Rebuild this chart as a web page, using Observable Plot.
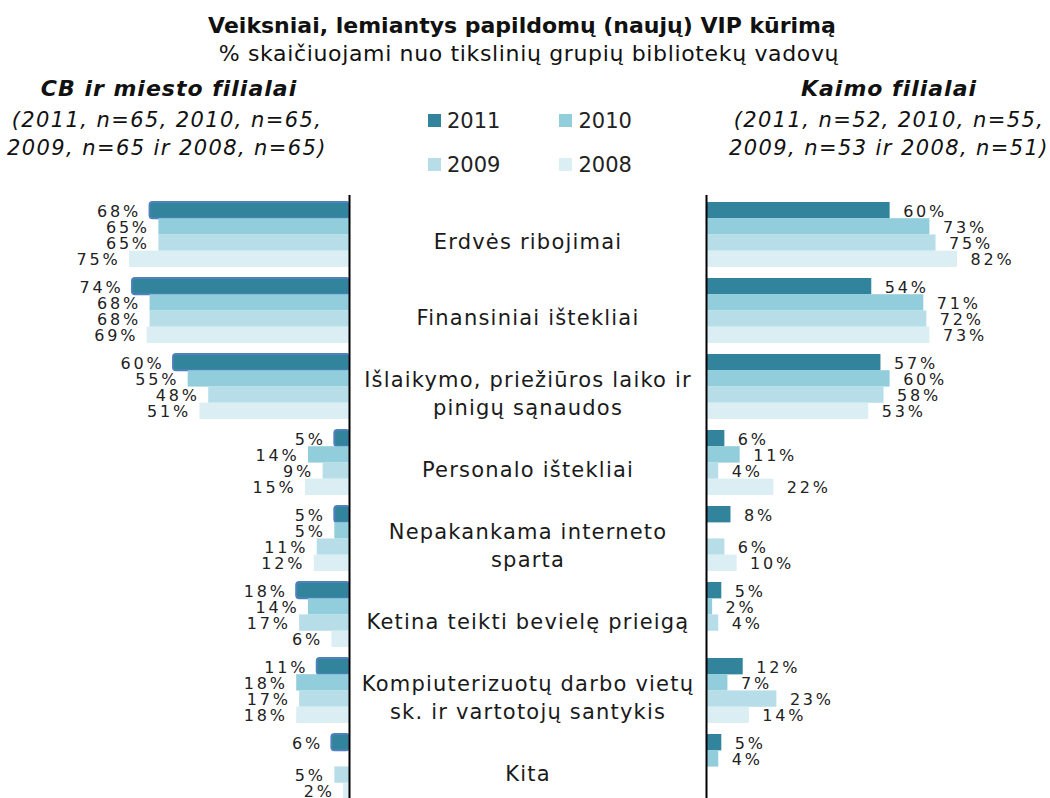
<!DOCTYPE html>
<html><head><meta charset="utf-8">
<script src="https://cdn.jsdelivr.net/npm/d3@7"></script>
<script src="https://cdn.jsdelivr.net/npm/@observablehq/plot@0.6"></script>
<style>
body{margin:0;background:#fff;overflow:hidden}
#page{position:relative;width:1050px;height:798px;overflow:hidden;font-family:"DejaVu Sans",Verdana,sans-serif;color:#111;background:#fff}
.t{position:absolute;line-height:1;white-space:nowrap;transform:translateX(-50%)}
.title{font-size:22px;font-weight:bold}
.sub{font-size:22px;letter-spacing:0.65px}
.head{font-size:22px;font-weight:bold;font-style:italic;letter-spacing:1px}
.note{font-size:21px;font-style:italic;letter-spacing:1.4px}
.plotbox{position:absolute;top:190px}
.leg{position:absolute}
.lg-swatches{font-size:21px;font-family:"DejaVu Sans",Verdana,sans-serif;color:#222;margin:0}
.lg-swatch{margin-right:59px}
.lg-swatch svg{margin-right:6px}
</style></head><body>
<div id="page">
  <div class="t title" style="left:522px;top:15px">Veiksniai, lemiantys papildomų (naujų) VIP kūrimą</div>
  <div class="t sub" style="left:529px;top:43px">% skaičiuojami nuo tikslinių grupių bibliotekų vadovų</div>
  <div class="t head" style="left:169px;top:78px">CB ir miesto filialai</div>
  <div class="t note" style="left:167px;top:110px">(2011, n=65, 2010, n=65,</div>
  <div class="t note" style="left:167px;top:138px">2009, n=65 ir 2008, n=65)</div>
  <div class="t head" style="left:889px;top:78px">Kaimo filialai</div>
  <div class="t note" style="left:889px;top:110px">(2011, n=52, 2010, n=55,</div>
  <div class="t note" style="left:889px;top:138px">2009, n=53 ir 2008, n=51)</div>
  <div class="leg" id="leg1" style="left:428px;top:104px"></div>
  <div class="leg" id="leg2" style="left:428px;top:148px"></div>
  <div class="plotbox" id="left" style="left:0px"></div>
  <div class="plotbox" id="mid" style="left:351px"></div>
  <div class="plotbox" id="right" style="left:700px"></div>
</div>
<script>
const categories = [
  "Erdvės ribojimai",
  "Finansiniai ištekliai",
  "Išlaikymo, priežiūros laiko ir\npinigų sąnaudos",
  "Personalo ištekliai",
  "Nepakankama interneto\nsparta",
  "Ketina teikti bevielę prieigą",
  "Kompiuterizuotų darbo vietų\nsk. ir vartotojų santykis",
  "Kita"
];
const years = ["2011", "2010", "2009", "2008"];
const colors = ["#31849B", "#92CDDC", "#B7DEE8", "#DAEEF3"];

// CB ir miesto filialai
const city2011 = [68, 74, 60, 5, 5, 18, 11, 6];
const city2010 = [65, 68, 55, 14, 5, 14, 18, null];
const city2009 = [65, 68, 48, 9, 11, 17, 17, 5];
const city2008 = [75, 69, 51, 15, 12, 6, 18, 2];
// Kaimo filialai
const rural2011 = [60, 54, 57, 6, 8, 5, 12, 5];
const rural2010 = [73, 71, 60, 11, null, 2, 7, 4];
const rural2009 = [75, 72, 58, 4, 6, 4, 23, null];
const rural2008 = [82, 73, 53, 22, 10, null, 14, null];

const citySeries = [city2011, city2010, city2009, city2008];
const ruralSeries = [rural2011, rural2010, rural2009, rural2008];

function rowsFor(series) {
  return series.map((vals, k) =>
    vals.map((v, i) => ({category: categories[i], year: years[k], value: v}))
        .filter(d => d.value != null));
}

const H = 616, MT = 5, MB = 0, PI = 0.15, PO = 0.08, N = categories.length;
const step = (H - MT - MB) / (N - PI + 2 * PO);
const bw = step * (1 - PI);
const h = bw / 4;
const yScale = {domain: categories, paddingInner: PI, paddingOuter: PO, align: 0.5, axis: null};

function sideMarks(series, left) {
  const marks = [];
  rowsFor(series).forEach((rows, k) => {
    marks.push(Plot.barX(rows, {
      x: "value", y: "category", fill: colors[k],
      insetTop: k * h, insetBottom: (3 - k) * h,
      ...(left && k === 0 ? {stroke: "#4F81BD", strokeWidth: 2, rx: 3} : {})
    }));
  });
  rowsFor(series).forEach((rows, k) => {
    marks.push(Plot.text(rows, {
      x: "value", y: "category", text: d => d.value + "%",
      dy: (k + 0.5) * h - bw / 2 + 1,
      dx: left ? -9 : 13,
      textAnchor: left ? "end" : "start",
      fontSize: 16, fill: "#222"
    }));
  });
  marks.push(Plot.ruleX([0], {stroke: "#000", strokeWidth: 2}));
  return marks;
}

const leftPlot = Plot.plot({
  width: 351, height: H, marginTop: MT, marginBottom: MB, marginLeft: 0, marginRight: 2,
  x: {domain: [0, 119], reverse: true, axis: null},
  y: yScale,
  style: {fontFamily: "DejaVu Sans, Verdana, sans-serif", letterSpacing: "2.8px", background: "transparent", overflow: "visible"},
  marks: sideMarks(citySeries, true)
});
document.getElementById("left").append(leftPlot);

const rightPlot = Plot.plot({
  width: 350, height: H, marginTop: MT, marginBottom: MB, marginLeft: 6, marginRight: 0,
  x: {domain: [0, 112.4], axis: null},
  y: yScale,
  style: {fontFamily: "DejaVu Sans, Verdana, sans-serif", letterSpacing: "2.8px", background: "transparent", overflow: "visible"},
  marks: sideMarks(ruralSeries, false)
});
document.getElementById("right").append(rightPlot);

const midPlot = Plot.plot({
  width: 349, height: H, marginTop: MT, marginBottom: MB, marginLeft: 0, marginRight: 0,
  y: yScale,
  style: {fontFamily: "DejaVu Sans, Verdana, sans-serif", letterSpacing: "1.2px", background: "transparent"},
  marks: [
    Plot.text(categories, {y: d => d, text: d => d, fontSize: 21, lineHeight: 1.33, dx: 2, dy: 5, fill: "#1a1a1a"})
  ]
});
document.getElementById("mid").append(midPlot);

const leg1 = Plot.legend({color: {type: "categorical", domain: years.slice(0, 2), range: colors.slice(0, 2)}, swatchSize: 13, className: "lg"});
const leg2 = Plot.legend({color: {type: "categorical", domain: years.slice(2), range: colors.slice(2)}, swatchSize: 13, className: "lg"});
document.getElementById("leg1").append(leg1);
document.getElementById("leg2").append(leg2);
</script>
</body></html>
